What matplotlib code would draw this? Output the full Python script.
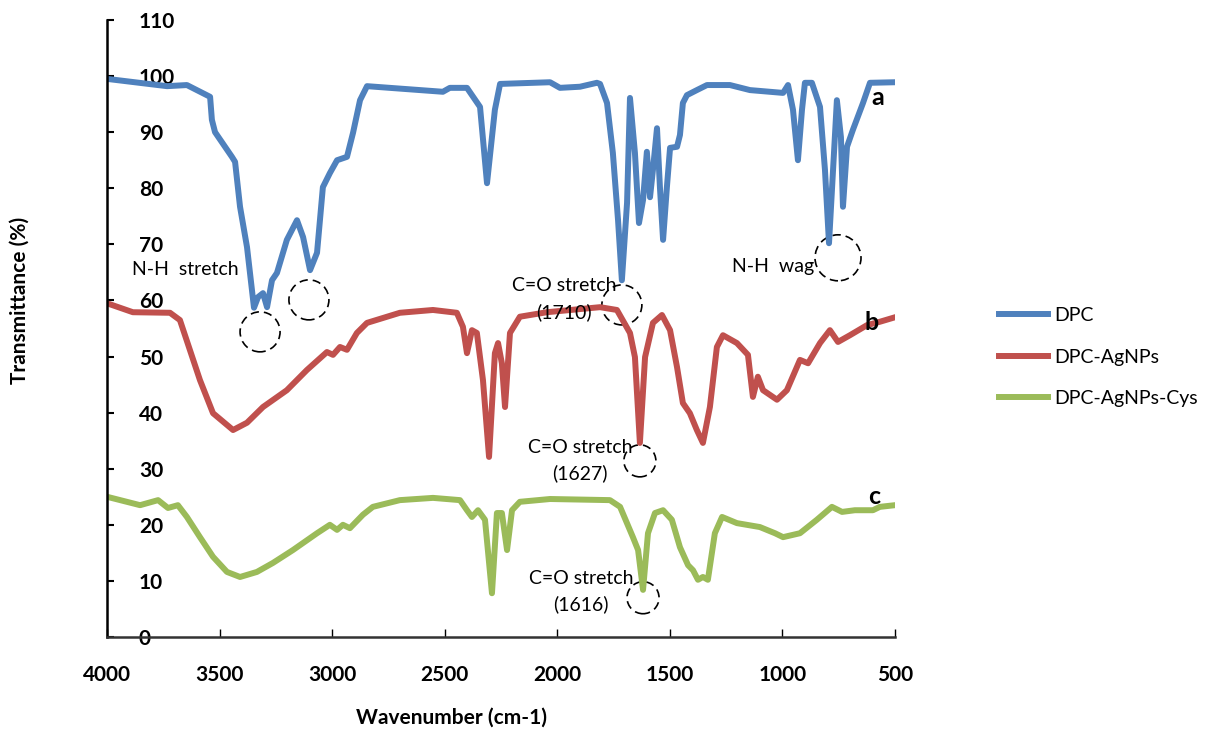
import matplotlib
matplotlib.use('Agg')
import matplotlib.pyplot as plt
from matplotlib.patches import Ellipse

plt.rcParams['font.family'] = ['Lato', 'DejaVu Sans']

# spectrum a (DPC)
wn_a = [4000, 3733, 3645, 3542, 3534, 3520, 3445, 3431, 3409, 3378, 3347, 3329, 3307, 3289,
        3267, 3245, 3201, 3156, 3129, 3098, 3067, 3041, 3010, 2978, 2934, 2907, 2876, 2845,
        2508, 2477, 2401, 2343, 2312, 2277, 2254, 2032, 1988, 1899, 1824, 1810, 1779, 1753,
        1730, 1713, 1690, 1677, 1655, 1637, 1619, 1602, 1588, 1575, 1557, 1544, 1530, 1513,
        1499, 1468, 1455, 1442, 1424, 1380, 1335, 1233, 1144, 997, 975, 953, 931, 913, 900,
        869, 833, 811, 793, 775, 758, 740, 731, 713, 687, 642, 611, 500]
t_a = [99.5, 98.2, 98.4, 96.3, 92.2, 90.0, 85.6, 84.7, 76.7, 69.5, 58.7, 60.6, 61.3, 58.8,
       63.6, 64.9, 70.8, 74.3, 71.3, 65.4, 68.5, 80.2, 82.7, 85.0, 85.6, 89.9, 95.7, 98.2,
       97.2, 97.9, 97.9, 94.5, 80.9, 94.0, 98.6, 98.9, 97.9, 98.1, 98.8, 98.6, 95.2, 86.3,
       74.3, 63.6, 77.4, 96.1, 86.3, 73.8, 77.9, 86.5, 78.4, 83.3, 90.7, 80.2, 70.8, 80.2,
       87.2, 87.4, 89.5, 95.2, 96.6, 97.5, 98.4, 98.4, 97.5, 97.0, 98.4, 94.0, 85.0, 94.0, 98.8,
       98.8, 94.5, 83.3, 70.2, 83.3, 95.7, 89.1, 76.7, 87.4, 90.4, 95.2, 98.8, 98.9]

# spectrum b (DPC-AgNPs)
wn_b = [4000, 3885, 3720, 3676, 3587, 3529, 3440, 3378, 3307, 3201, 3112, 3023, 2996, 2965,
        2934, 2890, 2845, 2699, 2552, 2446, 2419, 2401, 2379, 2357, 2330, 2303, 2277, 2263,
        2246, 2232, 2210, 2166, 2046, 1810, 1735, 1677, 1655, 1633, 1610, 1575, 1535, 1499,
        1468, 1442, 1411, 1380, 1353, 1322, 1291, 1264, 1202, 1153, 1131, 1109, 1086, 1024,
        980, 922, 886, 833, 789, 753, 700, 624, 567, 500]
t_b = [59.5, 57.9, 57.8, 56.5, 45.8, 39.9, 36.9, 38.2, 41.0, 44.0, 47.6, 50.8, 50.3, 51.7,
       51.2, 54.2, 56.0, 57.8, 58.3, 57.8, 55.3, 50.6, 54.7, 54.2, 45.8, 32.1, 50.6, 52.4,
       48.8, 41.0, 54.2, 57.1, 57.9, 58.8, 58.3, 54.2, 49.9, 34.6, 49.9, 56.0, 57.4, 54.7,
       48.1, 41.7, 39.9, 36.9, 34.6, 41.0, 51.7, 53.8, 52.4, 50.3, 42.8, 46.4, 44.0, 42.3,
       44.0, 49.4, 48.8, 52.4, 54.7, 52.6, 53.8, 55.6, 56.2, 57.0]

# spectrum c (DPC-AgNPs-Cys)
wn_c = [4000, 3853, 3773, 3729, 3685, 3645, 3587, 3529, 3467, 3409, 3334, 3263, 3174, 3067,
        3010, 2978, 2952, 2921, 2863, 2819, 2699, 2552, 2432, 2401, 2379, 2352, 2321, 2290,
        2268, 2246, 2223, 2201, 2166, 2032, 1766, 1721, 1664, 1641, 1619, 1597, 1566, 1530,
        1491, 1455, 1419, 1397, 1375, 1353, 1331, 1300, 1268, 1202, 1100, 1033, 997, 922,
        847, 780, 735, 678, 598, 567, 500]
t_c = [25.0, 23.5, 24.4, 23.0, 23.5, 21.4, 17.8, 14.3, 11.6, 10.7, 11.6, 13.2, 15.5, 18.5,
       20.0, 19.1, 20.0, 19.4, 21.8, 23.2, 24.4, 24.8, 24.4, 22.6, 21.4, 22.6, 20.9, 7.8,
       22.1, 22.1, 15.5, 22.6, 24.1, 24.6, 24.4, 23.2, 17.8, 15.5, 8.4, 18.5, 22.1, 22.6,
       20.9, 16.0, 12.8, 11.9, 10.2, 10.7, 10.2, 18.5, 21.4, 20.3, 19.6, 18.5, 17.8, 18.5,
       20.9, 23.2, 22.3, 22.6, 22.6, 23.2, 23.5]

labels = ['DPC', 'DPC-AgNPs', 'DPC-AgNPs-Cys']
colors = ['#4F81BD', '#C0504D', '#9BBB59']

# circled peaks: wavenumber, transmittance, radius in px
circles = [(3320, 54.4, 20), (3103, 60.1, 20), (1713, 59.2, 20),
           (753, 67.6, 23), (1633, 31.4, 16), (1619, 7.0, 16)]

fig = plt.figure(figsize=(12.06, 7.4), dpi=100)
ax = fig.add_axes([0.0887, 0.1392, 0.6534, 0.8338])

ax.plot(wn_a, t_a, color=colors[0], lw=4.3, label=labels[0], solid_joinstyle='round')
ax.plot(wn_b, t_b, color=colors[1], lw=4.3, label=labels[1], solid_joinstyle='round')
ax.plot(wn_c, t_c, color=colors[2], lw=4.3, label=labels[2], solid_joinstyle='round')

ax.set_xlim(4000, 500)
ax.set_ylim(0, 110)
ax.set_xticks(range(4000, 499, -500))
ax.set_yticks(range(0, 111, 10))

for s in ['top', 'right']:
    ax.spines[s].set_visible(False)
ax.spines['left'].set_linewidth(1.8)
ax.spines['bottom'].set_linewidth(1.8)
ax.spines['bottom'].set_color('#333333')

ax.tick_params(axis='y', direction='in', length=5, width=1.5, pad=-23)
ax.tick_params(axis='x', direction='in', length=6, width=1, pad=20)
for lab in ax.get_yticklabels():
    lab.set_horizontalalignment('left')
    lab.set_fontweight('bold')
    lab.set_fontsize(15)
for lab in ax.get_xticklabels():
    lab.set_fontweight('bold')
    lab.set_fontsize(15)

# dashed circles around peaks
bbox = ax.get_window_extent()
xs = 3500 / bbox.width
ys = 110 / bbox.height
for cx, cy, r in circles:
    ax.add_patch(Ellipse((cx, cy), 2 * r * xs, 2 * r * ys, fill=False,
                         edgecolor='black', lw=1.2, linestyle=(0, (5, 3))))

fs = 14
ax.text(3889, 65.6, 'N-H  stretch', fontsize=fs, ha='left', va='center')
ax.text(1970, 62.6, 'C=O stretch', fontsize=fs, ha='center', va='center')
ax.text(1970, 57.9, '(1710)', fontsize=fs, ha='center', va='center')
ax.text(1042, 66.1, 'N-H  wag', fontsize=fs, ha='center', va='center')
ax.text(1899, 33.7, 'C=O stretch', fontsize=fs, ha='center', va='center')
ax.text(1899, 29.2, '(1627)', fontsize=fs, ha='center', va='center')
ax.text(1895, 10.5, 'C=O stretch', fontsize=fs, ha='center', va='center')
ax.text(1895, 5.9, '(1616)', fontsize=fs, ha='center', va='center')

ax.text(576, 96.1, 'a', fontsize=18, fontweight='bold', ha='center', va='center')
ax.text(602, 56.0, 'b', fontsize=18, fontweight='bold', ha='center', va='center')
ax.text(593, 25.0, 'c', fontsize=18, fontweight='bold', ha='center', va='center')

fig.text(20 / 1206, 1 - 300 / 740, 'Transmittance (%)', rotation=90, fontsize=15,
         fontweight='bold', ha='center', va='center')
fig.text(452 / 1206, 1 - 718 / 740, 'Wavenumber (cm-1)', fontsize=15,
         fontweight='bold', ha='center', va='center')

fig.legend(loc='center left', bbox_to_anchor=(999 / 1206, 1 - 357 / 740), frameon=False,
           fontsize=14, handlelength=2.5, handletextpad=0.35, labelspacing=1.25,
           borderpad=0, borderaxespad=0)

plt.savefig('out.png', dpi=100)
